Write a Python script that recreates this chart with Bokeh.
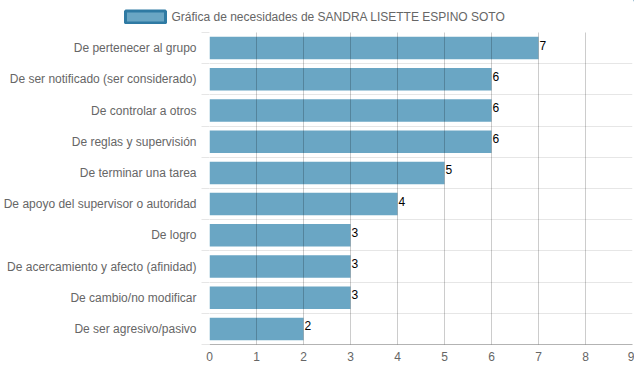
from bokeh.plotting import figure
from bokeh.models import Range1d, FixedTicker, Legend, LegendItem
from bokeh.layouts import column
from bokeh.embed import file_html
from bokeh.resources import INLINE
from bokeh.core.properties import value

categories = [
    "De pertenecer al grupo",
    "De ser notificado (ser considerado)",
    "De controlar a otros",
    "De reglas y supervisión",
    "De terminar una tarea",
    "De apoyo del supervisor o autoridad",
    "De logro",
    "De acercamiento y afecto (afinidad)",
    "De cambio/no modificar",
    "De ser agresivo/pasivo",
]
values = [7, 6, 6, 6, 5, 4, 3, 3, 3, 2]
x_ticks = [0, 1, 2, 3, 4, 5, 6, 7, 8, 9]
series_name = "Gráfica de necesidades de SANDRA LISETTE ESPINO SOTO"

FONT = "Liberation Sans"
BAR = "#6aa6c4"
n = len(categories)
centers = [i + 0.5 for i in range(n)]
bounds = [i for i in range(n + 1)]

TOTAL_W = 634

# ---- legend strip on top ----
leg = figure(width=TOTAL_W, height=24, x_range=Range1d(0, 1), y_range=Range1d(0, 1),
             x_axis_type=None, y_axis_type=None, output_backend="svg", toolbar_location=None,
             min_border=0, min_border_left=0, min_border_right=0,
             min_border_top=0, min_border_bottom=0)
leg.frame_align = False
leg.outline_line_color = None
leg.border_fill_color = "white"
leg.xgrid.visible = False
leg.ygrid.visible = False
dummy = leg.hbar(y=[50], left=[50], right=[51], height=0.7, fill_color=BAR,
                 line_color="#2f7aa3", line_width=3)
legend = Legend(items=[LegendItem(label=series_name, renderers=[dummy])],
                location=(119.5, 0), orientation="horizontal",
                glyph_width=50, glyph_height=15, label_standoff=2, label_height=15,
                padding=0, margin=0, spacing=0,
                border_line_color=None, background_fill_alpha=0,
                label_text_font=FONT, label_text_font_size="12px",
                label_text_color="#666666")
leg.add_layout(legend, "center")

# ---- main chart ----
p = figure(
    frame_width=423, frame_height=312,
    x_range=Range1d(0, 9), y_range=Range1d(n, 0),
    output_backend="svg", toolbar_location=None,
    min_border_left=201, min_border_top=8, min_border_bottom=20, min_border_right=2,
)
p.frame_align = False
p.outline_line_color = None
p.background_fill_color = "white"

p.hbar(y=centers, right=values, left=0, height=0.72, fill_color=BAR, line_color=None)
p.text(x=values, y=centers, text=[str(v) for v in values], text_font=value(FONT),
       text_font_size="12px", text_color="black", text_align="left",
       text_baseline="middle", x_offset=1, y_offset=-3)

# x axis
p.xaxis.ticker = FixedTicker(ticks=x_ticks)
p.xaxis.axis_line_color = "#b3b3b3"
p.xaxis.major_tick_line_color = None
p.xaxis.minor_tick_line_color = None
p.xaxis.major_tick_out = 0
p.xaxis.major_label_standoff = 7
p.xaxis.major_label_text_font = FONT
p.xaxis.major_label_text_font_size = "12px"
p.xaxis.major_label_text_color = "#666666"

# y axis
p.yaxis.ticker = FixedTicker(ticks=centers, minor_ticks=bounds)
p.yaxis.major_label_overrides = {c: lab for c, lab in zip(centers, categories)}
p.yaxis.axis_line_color = None
p.yaxis.major_tick_line_color = None
p.yaxis.major_tick_out = 0
p.yaxis.minor_tick_out = 8
p.yaxis.minor_tick_in = 0
p.yaxis.minor_tick_line_color = "#e6e6e6"
p.yaxis.major_label_standoff = 5
p.yaxis.major_label_text_font = FONT
p.yaxis.major_label_text_font_size = "12px"
p.yaxis.major_label_text_color = "#666666"

# grids
p.xgrid.ticker = FixedTicker(ticks=x_ticks)
p.xgrid.grid_line_color = "black"
p.xgrid.grid_line_alpha = 0.2
p.xgrid.level = "overlay"
p.ygrid.ticker = FixedTicker(ticks=bounds)
p.ygrid.grid_line_color = "#e6e6e6"
p.ygrid.level = "underlay"

layout = column(leg, p, spacing=0)
open("out.html", "w").write(file_html(layout, INLINE))
